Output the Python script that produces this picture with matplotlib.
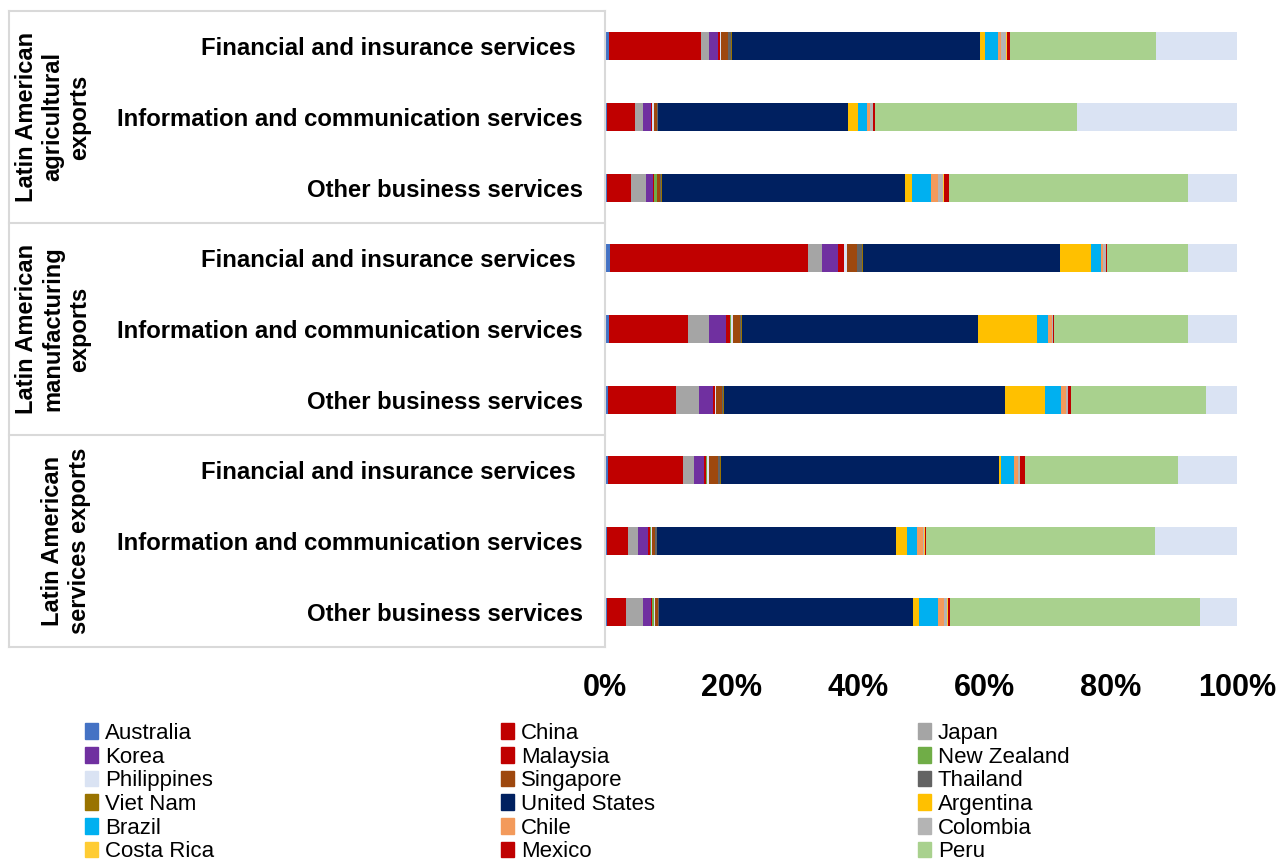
import numpy as np
import matplotlib
matplotlib.use("Agg")
import matplotlib.pyplot as plt
from matplotlib.patches import Patch
from matplotlib.transforms import blended_transform_factory

plt.rcParams['font.family'] = ['Liberation Sans', 'DejaVu Sans']

# rows, top to bottom
row_labels = ["Financial and insurance services ",
              "Information and communication services",
              "Other business services"] * 3
groups = ["Latin American\nagricultural\nexports",
          "Latin American\nmanufacturing\nexports",
          "Latin American\nservices exports"]

# shares (%) per destination, one value per row
australia = [0.7, 0.3, 0.3, 0.8, 0.6, 0.5, 0.5, 0.25, 0.3]
china = [14.5, 4.4, 3.85, 31.3, 12.55, 10.65, 11.85, 3.4, 3.05]
japan = [1.3, 1.3, 2.4, 2.1, 3.3, 3.65, 1.7, 1.6, 2.7]
korea = [1.3, 1.3, 1.1, 2.5, 2.65, 2.25, 1.6, 1.6, 1.2]
malaysia = [0.3, 0.15, 0.1, 1.05, 0.7, 0.25, 0.25, 0.25, 0.1]
new_zealand = [0.1, 0.05, 0.4, 0.05, 0.05, 0.1, 0.2, 0.1, 0.4]
philippines = [0.2, 0.25, 0.1, 0.45, 0.35, 0.15, 0.3, 0.15, 0.1]
singapore = [1.0, 0.5, 0.45, 1.5, 1.05, 1.0, 1.4, 0.6, 0.5]
thailand = [0.5, 0.1, 0.2, 0.8, 0.3, 0.15, 0.35, 0.25, 0.15]
viet_nam = [0.1, 0.1, 0.1, 0.1, 0.05, 0.05, 0.2, 0.05, 0.05]
united_states = [39.3, 29.95, 38.4, 31.1, 37.4, 44.4, 43.7, 37.8, 39.9]
argentina = [0.7, 1.5, 1.15, 4.9, 9.2, 6.3, 0.4, 1.6, 0.9]
brazil = [2.1, 1.5, 2.9, 1.6, 1.75, 2.5, 2.0, 1.6, 3.0]
chile = [0.5, 0.5, 1.15, 0.4, 0.6, 0.8, 0.6, 0.95, 0.95]
colombia = [0.8, 0.4, 0.85, 0.45, 0.2, 0.35, 0.4, 0.2, 0.5]
costa_rica = [0.05, 0.05, 0.1, 0.05, 0.05, 0.05, 0.05, 0.1, 0.1]
mexico = [0.5, 0.3, 0.8, 0.1, 0.1, 0.4, 0.7, 0.25, 0.4]
peru = [23.1, 31.9, 37.7, 12.7, 21.15, 21.4, 24.15, 36.1, 39.25]
rest_of_world = [12.8, 25.3, 7.8, 7.8, 7.8, 4.85, 9.3, 13.0, 5.85]

countries = ["Australia", "China", "Japan", "Korea", "Malaysia", "New Zealand",
             "Philippines", "Singapore", "Thailand", "Viet Nam", "United States",
             "Argentina", "Brazil", "Chile", "Colombia", "Costa Rica", "Mexico", "Peru"]
series = [australia, china, japan, korea, malaysia, new_zealand, philippines,
          singapore, thailand, viet_nam, united_states, argentina, brazil, chile,
          colombia, costa_rica, mexico, peru]
colors = ["#4472C4", "#C00000", "#A5A5A5", "#7030A0", "#C00000", "#70AD47",
          "#DAE3F3", "#9E480E", "#636363", "#997300", "#002060", "#FFC000",
          "#00B0F0", "#F39A5B", "#B4B4B4", "#FFCC33", "#C00000", "#A9D18E"]
rest_color = "#DAE3F3"

W, H = 1279, 863
fig = plt.figure(figsize=(W / 100, H / 100), dpi=100)
ax = fig.add_axes([605 / W, 1 - 647 / H, 632 / W, 636 / H])

y = np.arange(len(row_labels))
totals = np.sum(series, axis=0) + np.array(rest_of_world)
left = np.zeros(len(y))
for name, vals, col in zip(countries, series, colors):
    share = np.array(vals) / totals * 100
    ax.barh(y, share, left=left, height=0.4, color=col, label=name, linewidth=0)
    left += share
share = np.array(rest_of_world) / totals * 100
ax.barh(y, share, left=left, height=0.4, color=rest_color, linewidth=0)

ax.set_xlim(0, 100)
ax.set_ylim(8.5, -0.5)
ax.set_xticks(range(0, 101, 20))
ax.set_xticklabels([f"{v}%" for v in range(0, 101, 20)], fontsize=22, fontweight='bold')
ax.set_yticks(y)
ax.set_yticklabels(row_labels, fontsize=17.2, fontweight='bold')
ax.tick_params(axis='y', length=0, pad=16)
ax.tick_params(axis='x', length=0, pad=19)
for s in ['top', 'right', 'bottom']:
    ax.spines[s].set_visible(False)
ax.spines['left'].set_color('#D9D9D9')
ax.spines['left'].set_linewidth(1.5)

# box around the category labels
tr = blended_transform_factory(fig.transFigure, ax.transData)
x0, x1 = 9 / W, 605 / W
for yy in [-0.5, 2.5, 5.5, 8.5]:
    ax.plot([x0, x1], [yy, yy], color='#D9D9D9', lw=1.5, transform=tr, clip_on=False)
ax.plot([x0, x0], [-0.5, 8.5], color='#D9D9D9', lw=1.5, transform=tr, clip_on=False)

for i, g in enumerate(groups):
    ax.text(91 / W, 3 * i + 1, g, transform=tr, rotation=90, ha='right', va='center',
            multialignment='center', fontsize=17, fontweight='bold')

# legend in three columns, row-major order
handles = [Patch(color=c, label=n) for n, c in zip(countries, colors)]
for k, xpos in enumerate([85, 501, 918]):
    fig.legend(handles=handles[k::3], loc='upper left',
               bbox_to_anchor=(xpos / W, 1 - 723 / H), frameon=False,
               fontsize=16, borderpad=0, borderaxespad=0, handlelength=0.6,
               handleheight=0.7, handletextpad=0.3, labelspacing=0.12)

fig.savefig("out.png", dpi=100)
